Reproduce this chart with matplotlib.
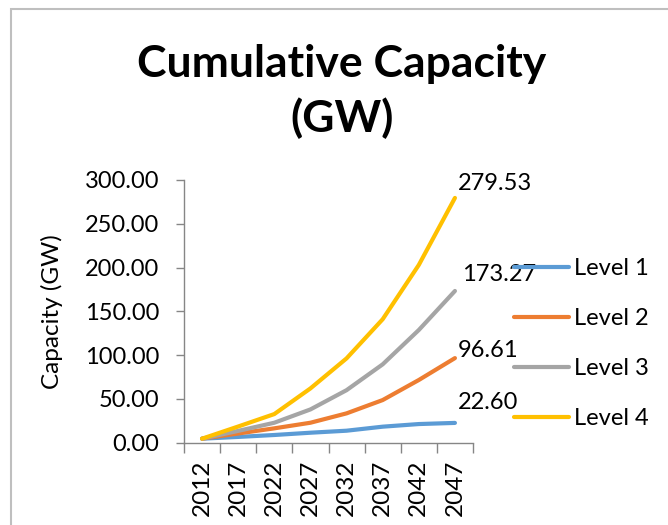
import matplotlib
matplotlib.use("Agg")
import matplotlib.pyplot as plt
from matplotlib.patches import Rectangle

years = ["2012", "2017", "2022", "2027", "2032", "2037", "2042", "2047"]
level1 = [4.6, 6.6, 8.8, 11.4, 13.7, 18.3, 21.3, 22.60]
level2 = [4.6, 10.5, 16.4, 22.8, 33.5, 48.7, 71.6, 96.61]
level3 = [4.6, 13.5, 22.8, 38.0, 60.0, 89.5, 128.7, 173.27]
level4 = [4.6, 18.5, 32.7, 62.0, 96.3, 141.0, 203.0, 279.53]
series_names = ["Level 1", "Level 2", "Level 3", "Level 4"]
series = [level1, level2, level3, level4]
colors = ["#5B9BD5", "#ED7D31", "#A5A5A5", "#FFC000"]
yticks = [0, 50, 100, 150, 200, 250, 300]

FONT = ["Lato", "DejaVu Sans"]
plt.rcParams["font.family"] = FONT

fig = plt.figure(figsize=(6.68, 5.25), dpi=100)
ax = fig.add_axes([184/668, 1-442.7/525, (473-184)/668, (442.7-180)/525])

x = list(range(len(years)))
lines = []
for s, c, n in zip(series, colors, series_names):
    ln, = ax.plot(x, s, color=c, lw=3, label=n, solid_capstyle="round", solid_joinstyle="round")
    lines.append(ln)

# data labels at last point (offsets in pixels, per series)
label_offsets = [(3, 20), (3, 8), (7, 16), (3, 14)]
for s, (dx, dy) in zip(series, label_offsets):
    ax.annotate(f"{s[-1]:.2f}", xy=(x[-1], s[-1]), xytext=(dx, dy),
                textcoords="offset pixels", ha="left", va="center", fontsize=17, color="black")

ax.set_xlim(-0.5, len(years) - 0.5)
ax.set_ylim(0, 300)
ax.set_yticks(yticks)
ax.set_yticklabels([f"{v:.2f}" for v in yticks])
ax.set_xticks(x)
ax.set_xticklabels(years, rotation=90)
ax.set_xticks([i - 0.5 for i in range(len(years) + 1)], minor=True)
ax.tick_params(axis="x", which="major", length=0, pad=12, labelsize=17.5)
ax.tick_params(axis="x", which="minor", length=7, width=1, color="#868686", direction="out")
ax.tick_params(axis="y", length=6, width=1, color="#868686", direction="out", labelsize=17, pad=12)
for sp in ["top", "right"]:
    ax.spines[sp].set_visible(False)
for sp in ["left", "bottom"]:
    ax.spines[sp].set_color("#868686")
    ax.spines[sp].set_linewidth(1)
ax.set_ylabel("Capacity (GW)", fontsize=17.5)
ax.yaxis.set_label_coords((63 - 184) / (473 - 184), 0.5)

fig.text(342/668, 1-64/525, "Cumulative Capacity", ha="center", va="center", fontsize=32, fontweight="bold")
fig.text(342/668, 1-118/525, "(GW)", ha="center", va="center", fontsize=32, fontweight="bold")

leg = fig.legend(handles=lines, labels=series_names, loc="upper left",
                 bbox_to_anchor=(493/668, 1-237/525), frameon=False, fontsize=17,
                 handlelength=2.33, handletextpad=0.2, labelspacing=1.23)

fig.patches.append(Rectangle((11/668, -0.1), 1.2, 1 - 9/525 + 0.1, transform=fig.transFigure,
                             fill=False, edgecolor="#BFBFBF", lw=1.5, figure=fig))

fig.savefig("out.png", dpi=100)
